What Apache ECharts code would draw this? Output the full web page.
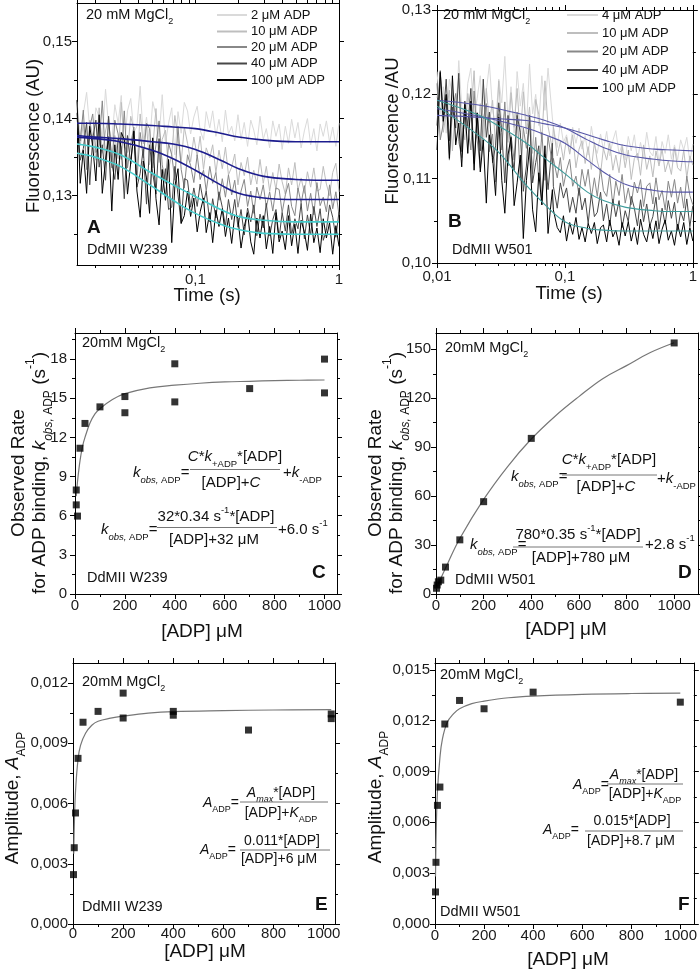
<!DOCTYPE html>
<html><head><meta charset="utf-8">
<script src="https://cdn.jsdelivr.net/npm/echarts@6/dist/echarts.min.js"></script>
<style>html,body{margin:0;padding:0;background:#fff}#c{width:700px;height:969px}</style>
</head><body><div id="c"></div>
<script>
// ---------- Panel A (DdMII W239, fluorescence transients) ----------
const tA = [0.0150,0.0158,0.0166,0.0175,0.0184,0.0193,0.0203,0.0214,0.0225,0.0237,0.0249,0.0262,0.0275,0.0290,0.0305,0.0320,0.0337,0.0355,0.0373,0.0392,0.0413,0.0434,0.0457,0.0480,0.0505,0.0532,0.0559,0.0588,0.0619,0.0651,0.0685,0.0720,0.0757,0.0797,0.0838,0.0882,0.0927,0.0976,0.103,0.108,0.114,0.119,0.126,0.132,0.139,0.146,0.154,0.162,0.170,0.179,0.188,0.198,0.208,0.219,0.231,0.243,0.255,0.268,0.282,0.297,0.312,0.329,0.346,0.364,0.383,0.402,0.423,0.445,0.468,0.493,0.518,0.545,0.574,0.603,0.635,0.668,0.702,0.739,0.777,0.817,0.860,0.904,0.951,1.0];
const A_2 = [0.1422,0.1378,0.1406,0.1434,0.1386,0.1366,0.1414,0.1402,0.1374,0.1438,0.1390,0.1370,0.1418,0.1394,0.1430,0.1362,0.1410,0.1426,0.1382,0.1390,0.1442,0.1374,0.1402,0.1366,0.1422,0.1404,0.1376,0.1431,0.1367,0.1394,0.1414,0.1353,0.1409,0.1381,0.1421,
0.1410,0.1380,0.1402,0.1416,0.1385,0.1372,0.1409,0.1388,0.1410,0.1377,0.1399,0.1370,0.1411,0.1380,0.1390,0.1371,0.1405,0.1373,0.1395,0.1364,0.1398,0.1385,0.1366,0.1403,0.1373,0.1387,0.1362,0.1397,0.1377,0.1393,0.1360,0.1390,0.1368,0.1399,0.1375,0.1395,0.1362,0.1384,0.1400,0.1366,0.1387,0.1358,0.1393,0.1377,0.1397,0.1369,0.1389,0.1364,0.1394];
const A_10 = [0.1408,0.1365,0.1394,0.1334,0.1398,0.1376,0.1346,0.1414,0.1355,0.1384,0.1401,0.1341,0.1378,0.1348,0.1421,0.1365,0.1356,0.1403,0.1385,0.1334,0.1406,0.1367,0.1392,0.1340,0.1361,0.1413,0.1343,0.1373,0.1385,0.1334,0.1354,0.1404,0.1374,0.1343,0.1389,
0.1368,0.1344,0.1376,0.1351,0.1377,0.1334,0.1362,0.1349,0.1366,0.1330,0.1359,0.1335,0.1363,0.1327,0.1337,0.1354,0.1314,0.1343,0.1326,0.1350,0.1314,0.1333,0.1315,0.1347,0.1316,0.1338,0.1306,0.1330,0.1308,0.1341,0.1318,0.1302,0.1336,0.1314,0.1343,0.1307,0.1323,0.1303,0.1331,0.1311,0.1336,0.1306,0.1308,0.1338,0.1315,0.1300,0.1330,0.1342,0.1305];
const A_20 = [0.1399,0.1371,0.1411,0.1334,0.1389,0.1406,0.1356,0.1365,0.1423,0.1346,0.1377,0.1336,0.1398,0.1380,0.1347,0.1410,0.1336,0.1367,0.1389,0.1320,0.1382,0.1349,0.1394,0.1387,0.1336,0.1366,0.1397,0.1340,0.1316,0.1368,0.1353,0.1320,0.1390,0.1334,0.1310,
0.1353,0.1339,0.1317,0.1353,0.1321,0.1333,0.1306,0.1338,0.1316,0.1330,0.1294,0.1322,0.1298,0.1327,0.1301,0.1320,0.1285,0.1306,0.1321,0.1286,0.1306,0.1277,0.1311,0.1295,0.1314,0.1285,0.1305,0.1280,0.1310,0.1308,0.1278,0.1301,0.1316,0.1286,0.1274,0.1310,0.1290,0.1313,0.1280,0.1303,0.1275,0.1317,0.1287,0.1298,0.1279,0.1314,0.1283,0.1305,0.1275];
const A_40 = [0.1407,0.1346,0.1361,0.1395,0.1314,0.1374,0.1398,0.1337,0.1366,0.1320,0.1403,0.1342,0.1321,0.1374,0.1363,0.1296,0.1378,0.1341,0.1383,0.1311,0.1329,0.1361,0.1289,0.1366,0.1329,0.1302,0.1374,0.1302,0.1335,0.1282,0.1285,0.1338,0.1301,0.1264,0.1322,
0.1320,0.1285,0.1310,0.1286,0.1315,0.1291,0.1306,0.1266,0.1296,0.1271,0.1305,0.1285,0.1260,0.1295,0.1269,0.1295,0.1259,0.1282,0.1249,0.1284,0.1266,0.1288,0.1248,0.1276,0.1258,0.1290,0.1248,0.1269,0.1282,0.1245,0.1278,0.1254,0.1288,0.1249,0.1270,0.1257,0.1290,0.1244,0.1275,0.1249,0.1286,0.1260,0.1283,0.1242,0.1255,0.1288,0.1272,0.1246,0.1279];
const A_100 = [0.1424,0.1316,0.1359,0.1303,0.1390,0.1364,0.1319,0.1405,0.1303,0.1346,0.1375,0.1280,0.1366,0.1321,0.1382,0.1373,0.1302,0.1343,0.1384,0.1306,0.1272,0.1345,0.1323,0.1277,0.1375,0.1296,0.1262,0.1334,0.1294,0.1347,0.1239,0.1312,0.1335,0.1264,0.1274,
0.1306,0.1273,0.1297,0.1253,0.1279,0.1297,0.1252,0.1278,0.1239,0.1281,0.1260,0.1283,0.1247,0.1271,0.1238,0.1275,0.1271,0.1232,0.1260,0.1278,0.1240,0.1224,0.1271,0.1245,0.1274,0.1231,0.1260,0.1225,0.1278,0.1240,0.1254,0.1230,0.1274,0.1235,0.1263,0.1225,0.1268,0.1253,0.1229,0.1276,0.1239,0.1258,0.1226,0.1270,0.1245,0.1265,0.1224,0.1261,0.1234];
const tAfit = [0.015,0.02,0.03,0.05,0.07,0.1,0.15,0.2,0.3,0.5,0.7,1];
const A_f2 = [0.1394,0.1394,0.1393,0.1391,0.1389,0.1387,0.1381,0.1376,0.1372,0.1370,0.1370,0.1370];
const A_f10 = [0.1378,0.1376,0.1374,0.1370,0.1367,0.1360,0.1346,0.1335,0.1325,0.1321,0.1320,0.1320];
const A_f20 = [0.1376,0.1374,0.1370,0.1359,0.1348,0.1333,0.1314,0.1303,0.1297,0.1295,0.1295,0.1295];
const A_f40 = [0.1367,0.1363,0.1353,0.1329,0.1314,0.1299,0.1282,0.1273,0.1268,0.1266,0.1266,0.1266];
const A_f100 = [0.1355,0.1350,0.1338,0.1312,0.1294,0.1277,0.1263,0.1256,0.1251,0.1250,0.1250,0.1250];
const A_names = ['2 μM ADP','10 μM ADP','20 μM ADP','40 μM ADP','100 μM ADP'];

// ---------- Panel B (DdMII W501, fluorescence transients) ----------
const tB = [0.0100,0.0106,0.0112,0.0118,0.0125,0.0132,0.0140,0.0148,0.0156,0.0165,0.0174,0.0184,0.0195,0.0206,0.0218,0.0230,0.0243,0.0257,0.0272,0.0287,0.0304,0.0321,0.0339,0.0359,0.0379,0.0401,0.0423,0.0448,0.0473,0.0500,0.0529,0.0559,0.0591,0.0625,0.0660,0.0698,0.0738,0.0798,0.0812,0.0871,0.0921,0.0974,0.103,0.109,0.115,0.122,0.129,0.136,0.144,0.152,0.161,0.170,0.179,0.190,0.200,0.212,0.224,0.237,0.250,0.265,0.280,0.296,0.313,0.330,0.349,0.369,0.390,0.412,0.436,0.461,0.487,0.515,0.544,0.575,0.608,0.643,0.680,0.719,0.760,0.803,0.849,0.897,0.948,1.0];
const B_4 = [0.1227,0.1177,0.1209,0.1154,0.1218,0.1200,0.1168,0.1240,0.1186,0.1159,0.1213,0.1231,0.1172,0.1195,0.1222,0.1150,0.1204,0.1236,0.1181,0.1163,0.1218,0.1190,0.1245,0.1168,0.1209,0.1154,0.1227,0.1186,0.1213,0.1159,0.1236,0.1177,0.1200,0.1163,0.1222,0.1181,0.1231,0.1172,
0.1161,0.1137,0.1166,0.1143,0.1152,0.1130,0.1161,0.1142,0.1160,0.1135,0.1151,0.1128,0.1162,0.1140,0.1130,0.1153,0.1134,0.1156,0.1127,0.1145,0.1157,0.1129,0.1141,0.1122,0.1150,0.1133,0.1152,0.1122,0.1143,0.1124,0.1155,0.1132,0.1127,0.1150,0.1118,0.1144,0.1130,0.1152,0.1123,0.1140,0.1122,0.1146,0.1134,0.1149,0.1120,0.1141];
const B_10 = [0.1196,0.1214,0.1155,0.1178,0.1205,0.1133,0.1187,0.1219,0.1164,0.1146,0.1201,0.1173,0.1228,0.1148,0.1189,0.1134,0.1207,0.1166,0.1193,0.1139,0.1216,0.1157,0.1180,0.1143,0.1202,0.1161,0.1207,0.1148,0.1203,0.1153,0.1185,0.1130,0.1194,0.1176,0.1144,0.1216,0.1162,0.1135,
0.1162,0.1127,0.1144,0.1122,0.1149,0.1129,0.1152,0.1113,0.1135,0.1145,0.1118,0.1138,0.1111,0.1143,0.1121,0.1106,0.1136,0.1122,0.1142,0.1110,0.1128,0.1107,0.1138,0.1113,0.1134,0.1099,0.1124,0.1130,0.1104,0.1140,0.1111,0.1127,0.1102,0.1133,0.1115,0.1135,0.1108,0.1121,0.1105,0.1137,0.1113,0.1109,0.1134,0.1101,0.1127,0.1116];
const B_20 = [0.1213,0.1146,0.1165,0.1199,0.1122,0.1180,0.1201,0.1144,0.1125,0.1187,0.1163,0.1134,0.1204,0.1146,0.1113,0.1170,0.1189,0.1132,0.1153,0.1096,0.1177,0.1134,0.1191,0.1115,0.1151,0.1122,0.1179,0.1098,0.1160,0.1136,0.1168,0.1106,0.1149,0.1097,0.1155,0.1098,0.1150,0.1117,
0.1124,0.1101,0.1125,0.1091,0.1110,0.1123,0.1091,0.1103,0.1080,0.1111,0.1091,0.1111,0.1077,0.1101,0.1079,0.1112,0.1086,0.1079,0.1105,0.1068,0.1097,0.1080,0.1105,0.1071,0.1089,0.1069,0.1096,0.1083,0.1099,0.1067,0.1091,0.1095,0.1070,0.1101,0.1075,0.1086,0.1063,0.1097,0.1078,0.1099,0.1071,0.1090,0.1065,0.1103,0.1080,0.1069];
const B_40 = [0.1163,0.1228,0.1173,0.1218,0.1145,0.1185,0.1160,0.1225,0.1132,0.1192,0.1162,0.1207,0.1118,0.1178,0.1133,0.1218,0.1149,0.1179,0.1119,0.1139,0.1190,0.1155,0.1095,0.1175,0.1135,0.1110,0.1175,0.1155,0.1085,0.1115,0.1175,0.1095,0.1119,0.1139,0.1069,0.1129,0.1087,0.1142,
0.1091,0.1065,0.1095,0.1077,0.1089,0.1060,0.1078,0.1059,0.1089,0.1063,0.1077,0.1047,0.1082,0.1055,0.1060,0.1084,0.1050,0.1070,0.1044,0.1076,0.1055,0.1074,0.1042,0.1062,0.1049,0.1079,0.1065,0.1044,0.1075,0.1049,0.1070,0.1044,0.1055,0.1078,0.1040,0.1065,0.1046,0.1074,0.1053,0.1072,0.1038,0.1061,0.1050,0.1076,0.1043,0.1068];
const B_100 = [0.1134,0.1226,0.1168,0.1200,0.1124,0.1222,0.1140,0.1166,0.1114,0.1188,0.1130,0.1192,0.1110,0.1178,0.1108,0.1146,0.1071,0.1152,0.1125,0.1080,0.1173,0.1098,0.1059,0.1128,0.1149,0.1068,0.1095,0.1128,0.1029,0.1098,0.1137,0.1063,0.1037,0.1107,0.1069,0.1139,0.1035,0.1087,
0.1063,0.1042,0.1036,0.1056,0.1026,0.1048,0.1034,0.1054,0.1028,0.1042,0.1025,0.1047,0.1035,0.1048,0.1023,0.1042,0.1045,0.1025,0.1051,0.1031,0.1039,0.1021,0.1048,0.1032,0.1049,0.1026,0.1042,0.1022,0.1052,0.1034,0.1025,0.1046,0.1029,0.1050,0.1023,0.1040,0.1051,0.1027,0.1038,0.1021,0.1046,0.1031,0.1048,0.1022,0.1042,0.1026];
const tBfit = [0.01,0.02,0.03,0.05,0.07,0.1,0.15,0.2,0.3,0.5,0.7,1];
const B_f4 = [0.1175,0.1173,0.1171,0.1169,0.1165,0.1160,0.1152,0.1146,0.1139,0.1135,0.1134,0.1133];
const B_f10 = [0.1193,0.1188,0.1183,0.1175,0.1169,0.1160,0.1146,0.1137,0.1128,0.1123,0.1121,0.1120];
const B_f20 = [0.1183,0.1175,0.1169,0.1160,0.1152,0.1142,0.1122,0.1108,0.1093,0.1086,0.1084,0.1084];
const B_f40 = [0.1193,0.1177,0.1163,0.1142,0.1124,0.1106,0.1084,0.1074,0.1066,0.1062,0.1061,0.1061];
const B_f100 = [0.1186,0.1154,0.1132,0.1092,0.1069,0.1049,0.1041,0.1039,0.1038,0.1038,0.1038,0.1038];
const B_names = ['4 μM ADP','10 μM ADP','20 μM ADP','40 μM ADP','100 μM ADP'];

// ---------- Panel C (k_obs, W239) ----------
const cX = [5,5,10,20,40,100,200,200,400,400,700,1000,1000];
const cY = [7.97,6.83,5.97,11.17,13.07,14.34,15.13,13.89,17.64,14.72,15.74,18.0,15.41];
const cFitX = [5,10,20,30,40,60,80,100,150,200,300,400,500,600,700,800,900,1000];
const cFitY = [7.5,8.6,10.2,11.3,12.0,13.1,13.8,14.2,14.9,15.35,15.8,16.0,16.15,16.25,16.3,16.35,16.38,16.4];
// ---------- Panel D (k_obs, W501) ----------
const dX = [2,5,10,20,40,100,200,400,1000];
const dY = [3.5,5.5,7.5,8.5,16.5,33.2,56.6,95.4,153.9];
const dFitX = [0,50,100,200,300,400,500,600,700,800,900,1000];
const dFitY = [3,19,34,58,78,95,109,121,132,140,148,154];
// ---------- Panel E (amplitude, W239) ----------
const eX = [2,5,10,20,40,100,200,200,400,400,700,1030,1030];
const eY = [0.00246,0.0038,0.00553,0.00825,0.01005,0.01059,0.0115,0.01026,0.01059,0.0104,0.00966,0.01046,0.01023];
const eFitX = [3,5,10,20,30,50,75,100,150,200,300,400,600,800,1030];
const eFitY = [0.0035,0.0048,0.0066,0.0082,0.0089,0.0095,0.0099,0.0101,0.01025,0.01035,0.0105,0.01058,0.01063,0.01066,0.01068];
// ---------- Panel F (amplitude, W501) ----------
const fX = [2,4,10,20,40,100,200,400,1000];
const fY = [0.00189,0.00364,0.0070,0.00808,0.0118,0.01319,0.0127,0.01368,0.01309];
const fFitX = [2,5,10,20,30,50,75,100,150,200,300,400,600,800,1000];
const fFitY = [0.0028,0.0055,0.0078,0.0098,0.0109,0.0119,0.0124,0.0127,0.0130,0.01315,0.01335,0.01345,0.01355,0.0136,0.01362];

// ---------- tick values ----------
const logMinorTicks = [0.02,0.03,0.04,0.05,0.06,0.07,0.08,0.09,0.2,0.3,0.4,0.5,0.6,0.7,0.8,0.9];
const aYTicks = [0.13,0.14,0.15], aYMinor = [0.125,0.135,0.145];
const bYTicks = [0.10,0.11,0.12,0.13], bYMinor = [0.105,0.115,0.125];
const kXTicks = [0,200,400,600,800,1000], kXMinor = [100,300,500,700,900];
const cYTicks = [0,3,6,9,12,15,18], cYMinor = [1.5,4.5,7.5,10.5,13.5,16.5,19.5];
const dYTicks = [0,30,60,90,120,150], dYMinor = [15,45,75,105,135];
const eYTicks = [0,0.003,0.006,0.009,0.012], eYMinor = [0.0015,0.0045,0.0075,0.0105];
const fYTicks = [0,0.003,0.006,0.009,0.012,0.015], fYMinor = [0.0015,0.0045,0.0075,0.0105,0.0135];

const F = '"Liberation Sans", Arial, Helvetica, sans-serif';
const fmt2 = v => v.toFixed(2).replace('.', ',');
const fmt3 = v => v.toFixed(3).replace('.', ',');
const fmtI = v => String(Math.round(v));
const fmtLog = v => String(+(+v).toPrecision(4)).replace('.', ',');
const zip = (xs, ys) => xs.map((x, i) => [x, ys[i]]);

const grids = [
  {left: 77, top: 3, width: 262, height: 262},
  {left: 437, top: 10, width: 262, height: 253},
  {left: 75, top: 333, width: 262, height: 261},
  {left: 436, top: 333, width: 262, height: 261},
  {left: 73, top: 663, width: 262, height: 261},
  {left: 435, top: 663, width: 262, height: 261}
].map(g => Object.assign({show: false, containLabel: false}, g));

const xAxes = [], yAxes = [];
const LINE = {color: '#000', width: 1};
function mkAxis(c, d, pos, kind) {
  const isLog = d === 'x' && c.xLog;
  const min = c[d + 'Min'], max = c[d + 'Max'];
  if (kind === 'minor') {
    const mv = isLog ? c[d + 'Minor'].map(v => Math.log10(v)) : c[d + 'Minor'];
    return {gridIndex: c.g, type: 'value', position: pos,
      min: isLog ? Math.log10(min) : min, max: isLog ? Math.log10(max) : max,
      axisLine: {show: false, onZero: false}, axisTick: {show: true, inside: false, length: 3, customValues: mv, lineStyle: LINE},
      axisLabel: {show: false}, splitLine: {show: false}, silent: true};
  }
  const ax = {gridIndex: c.g, type: isLog ? 'log' : 'value', position: pos, min, max,
    axisLine: {show: true, onZero: false, lineStyle: LINE},
    axisTick: {show: true, inside: false, length: 5, lineStyle: LINE},
    axisLabel: {show: kind === 'main', fontSize: 15, fontFamily: F, color: '#1a1a1a', margin: c[d + 'Margin'], formatter: c[d + 'Fmt']},
    splitLine: {show: false}, silent: true};
  if (isLog) { ax.logBase = 10; ax.axisLabel.showMinLabel = c.xShowMin; }
  else { ax.axisTick.customValues = c[d + 'Ticks']; ax.axisLabel.customValues = c[d + 'Ticks']; }
  return ax;
}
function addPanel(c) {
  const xi = xAxes.length, yi = yAxes.length;
  xAxes.push(mkAxis(c, 'x', 'bottom', 'main'), mkAxis(c, 'x', 'top', 'mirror'), mkAxis(c, 'x', 'bottom', 'minor'), mkAxis(c, 'x', 'top', 'minor'));
  yAxes.push(mkAxis(c, 'y', 'left', 'main'), mkAxis(c, 'y', 'right', 'mirror'), mkAxis(c, 'y', 'left', 'minor'), mkAxis(c, 'y', 'right', 'minor'));
  return {x: xi, y: yi};
}
const pA = addPanel({g: 0, xLog: true, xMin: 0.015, xMax: 1, xMinor: logMinorTicks, xFmt: fmtLog, xMargin: 7, xShowMin: false,
  yMin: 0.121, yMax: 0.155, yTicks: aYTicks, yMinor: aYMinor, yFmt: fmt2, yMargin: 5});
const pB = addPanel({g: 1, xLog: true, xMin: 0.01, xMax: 1, xMinor: logMinorTicks, xFmt: fmtLog, xMargin: 6, xShowMin: true,
  yMin: 0.10, yMax: 0.13, yTicks: bYTicks, yMinor: bYMinor, yFmt: fmt2, yMargin: 6});
const pC = addPanel({g: 2, xMin: 0, xMax: 1050, xTicks: kXTicks, xMinor: kXMinor, xFmt: fmtI, xMargin: 4,
  yMin: 0, yMax: 20, yTicks: cYTicks, yMinor: cYMinor, yFmt: fmtI, yMargin: 8});
const pD = addPanel({g: 3, xMin: 0, xMax: 1100, xTicks: kXTicks, xMinor: kXMinor, xFmt: fmtI, xMargin: 4,
  yMin: 0, yMax: 160, yTicks: dYTicks, yMinor: dYMinor, yFmt: fmtI, yMargin: 5});
const pE = addPanel({g: 4, xMin: 0, xMax: 1045, xTicks: kXTicks, xMinor: kXMinor, xFmt: fmtI, xMargin: 2,
  yMin: 0, yMax: 0.013, yTicks: eYTicks, yMinor: eYMinor, yFmt: fmt3, yMargin: 5});
const pF = addPanel({g: 5, xMin: 0, xMax: 1055, xTicks: kXTicks, xMinor: kXMinor, xFmt: fmtI, xMargin: 4,
  yMin: 0, yMax: 0.0154, yTicks: fYTicks, yMinor: fYMinor, yFmt: fmt3, yMargin: 5});

const traceColors = ['#dadada', '#bebebe', '#888888', '#474747', '#000000'];
const series = [];
function trace(p, name, t, v, color) {
  series.push({type: 'line', name, xAxisIndex: p.x, yAxisIndex: p.y, data: zip(t, v), showSymbol: false, symbol: 'none',
    lineStyle: {color, width: 1}, itemStyle: {color}, silent: true, z: 2});
}
function fit(p, t, v, color, w) {
  series.push({type: 'line', xAxisIndex: p.x, yAxisIndex: p.y, data: zip(t, v), showSymbol: false, symbol: 'none',
    smooth: 0.4, lineStyle: {color, width: w}, silent: true, z: 5});
}
function pts(p, x, y) {
  series.push({type: 'scatter', xAxisIndex: p.x, yAxisIndex: p.y, data: zip(x, y), symbol: 'rect', symbolSize: 7,
    itemStyle: {color: '#000'}, silent: true, z: 6});
}
[A_2, A_10, A_20, A_40, A_100].forEach((v, i) => trace(pA, 'A ' + A_names[i], tA, v, traceColors[i]));
fit(pA, tAfit, A_f2, '#1c1c8e', 1.6); fit(pA, tAfit, A_f10, '#1c1c8e', 1.6); fit(pA, tAfit, A_f20, '#1c1c8e', 1.6);
fit(pA, tAfit, A_f40, '#45cccc', 1.6); fit(pA, tAfit, A_f100, '#45cccc', 1.6);
[B_4, B_10, B_20, B_40, B_100].forEach((v, i) => trace(pB, 'B ' + B_names[i], tB, v, traceColors[i]));
fit(pB, tBfit, B_f4, '#5656a8', 1.1); fit(pB, tBfit, B_f10, '#5656a8', 1.1); fit(pB, tBfit, B_f20, '#5656a8', 1.1);
fit(pB, tBfit, B_f40, '#3e9c9c', 1.1); fit(pB, tBfit, B_f100, '#3e9c9c', 1.1);
fit(pC, cFitX, cFitY, '#777', 1.2); pts(pC, cX, cY);
fit(pD, dFitX, dFitY, '#777', 1.2); pts(pD, dX, dY);
fit(pE, eFitX, eFitY, '#777', 1.2); pts(pE, eX, eY);
fit(pF, fFitX, fFitY, '#777', 1.2); pts(pF, fX, fY);

// ---------- text / annotations ----------
function R(s) {
  const base = {fontFamily: F, fill: '#111'};
  const sub = Math.round(s * 0.63 * 2) / 2;
  return {
    n: Object.assign({fontSize: s, lineHeight: Math.round(s * 1.6)}, base),
    i: Object.assign({fontSize: s, lineHeight: Math.round(s * 1.6), fontStyle: 'italic'}, base),
    sb: Object.assign({fontSize: sub, lineHeight: Math.round(sub + 1), verticalAlign: 'bottom'}, base),
    si: Object.assign({fontSize: sub, lineHeight: Math.round(sub + 1), verticalAlign: 'bottom', fontStyle: 'italic'}, base),
    sp: Object.assign({fontSize: sub, lineHeight: Math.round(s * 1.05), verticalAlign: 'top'}, base)
  };
}
const G = [];
function T(x, y, text, size, o) {
  o = o || {};
  const al = o.align || 'left';
  const st = {text, fontFamily: F, fontSize: size, fill: '#111', align: al, verticalAlign: 'middle',
    textAlign: al, textVerticalAlign: 'middle', rich: R(size)};
  if (o.bold) st.fontWeight = 'bold';
  const el = {type: 'text', x, y, z: 100, silent: true, style: st};
  if (o.rot) el.rotation = Math.PI / 2;
  G.push(el);
}
function L(x1, y1, x2, y2, color, w) {
  G.push({type: 'line', z: 100, silent: true, shape: {x1, y1, x2, y2}, style: {stroke: color, lineWidth: w}});
}
const C = {align: 'center'}, ROT = {align: 'center', rot: true}, BOLD = {bold: true};

// Panel A texts
T(86, 15, '{n|20 mM MgCl}{sb|2}', 14.5);
[15, 31.5, 47, 63.5, 80].forEach((y, i) => { L(217, y, 247, y, traceColors[i], 2); T(251, y, A_names[i], 13); });
T(87, 228, 'A', 19, BOLD);
T(87, 250, 'DdMII W239', 14.5);
T(34, 136, 'Fluorescence (AU)', 18.5, ROT);
T(207, 296, 'Time (s)', 18.5, C);
// Panel B texts
T(443, 15, '{n|20 mM MgCl}{sb|2}', 14.5);
[15, 33, 51.5, 70, 88].forEach((y, i) => { L(567, y, 598, y, traceColors[i], 2); T(602, y, B_names[i], 13); });
T(448, 222, 'B', 19, BOLD);
T(452, 250, 'DdMII W501', 14.5);
T(393, 131, 'Fluorescence /AU', 18.5, ROT);
T(569, 294, 'Time (s)', 18.5, C);
// Panel C texts
const kTitle = '{n|for ADP binding, }{i|k}{si|obs,}{sb| ADP}{n| (s}{sp|-1}{n|)}';
const kPre = '{i|k}{si|obs,}{sb| ADP}{n|=}';
T(82, 343, '{n|20mM MgCl}{sb|2}', 14.5);
T(87, 578, 'DdMII W239', 14.5);
T(312, 573, 'C', 19, BOLD);
T(19, 473, 'Observed Rate', 19, ROT);
T(40, 473, kTitle, 19, ROT);
T(202, 632, '[ADP] μM', 19, C);
T(133, 473, kPre, 15);
T(235, 457, '{i|C}{n|*}{i|k}{sb|+ADP}{n|*[ADP]}', 15, C);
L(190, 469.5, 280, 469.5, '#777', 1);
T(231, 483, '{n|[ADP]+}{i|C}', 15, C);
T(283, 473, '{n|+}{i|k}{sb|-ADP}', 15);
T(101, 530, kPre, 15);
T(216, 517, '{n|32*0.34 s}{sp|-1}{n|*[ADP]}', 15, C);
L(157, 527.5, 277, 527.5, '#777', 1);
T(214, 540, '{n|[ADP]+32 μM}', 15, C);
T(278, 530, '{n|+6.0 s}{sp|-1}', 15);
// Panel D texts
T(445, 348, '{n|20mM MgCl}{sb|2}', 14.5);
T(455, 580, 'DdMII W501', 14.5);
T(678, 573, 'D', 19, BOLD);
T(376, 473, 'Observed Rate', 19, ROT);
T(397, 473, kTitle, 19, ROT);
T(566, 630, '[ADP] μM', 19, C);
T(511, 477, kPre, 15);
T(609, 460, '{i|C}{n|*}{i|k}{sb|+ADP}{n|*[ADP]}', 15, C);
L(562, 475, 657, 475, '#777', 1);
T(606, 487, '{n|[ADP]+}{i|C}', 15, C);
T(657, 479, '{n|+}{i|k}{sb|-ADP}', 15);
T(470, 545, kPre, 15);
T(578, 535, '{n|780*0.35 s}{sp|-1}{n|*[ADP]}', 15, C);
L(513, 547, 643, 547, '#777', 1);
T(581, 558, '{n|[ADP]+780 μM}', 15, C);
T(645, 545, '{n|+2.8 s}{sp|-1}', 15);
// Panel E texts
const aTitle = '{n|Amplitude, }{i|A}{sb|ADP}';
const aPre = '{i|A}{sb|ADP}{n|=}';
T(82, 682, '{n|20mM MgCl}{sb|2}', 14.5);
T(82, 907, 'DdMII W239', 14.5);
T(315, 905, 'E', 19, BOLD);
T(13, 798, aTitle, 19, ROT);
T(205, 952, '[ADP] μM', 19, C);
T(203, 803, aPre, 14);
T(281, 793, '{i|A}{si|max}{n|*[ADP]}', 14, C);
L(240, 802, 328, 802, '#777', 1);
T(281, 813, '{n|[ADP]+}{i|K}{sb|ADP}', 14, C);
T(200, 850, aPre, 14);
T(282, 841, '{n|0.011*[ADP]}', 14, C);
L(240, 850, 330, 850, '#777', 1);
T(279, 859, '{n|[ADP]+6 μM}', 14, C);
// Panel F texts
T(440, 675, '{n|20mM MgCl}{sb|2}', 14.5);
T(440, 912, 'DdMII W501', 14.5);
T(678, 905, 'F', 19, BOLD);
T(376, 797, aTitle, 19, ROT);
T(568, 960, '[ADP] μM', 19, C);
T(573, 785, aPre, 14);
T(644, 775, '{i|A}{si|max}{n|*[ADP]}', 14, C);
L(607, 784, 683, 784, '#777', 1);
T(645, 794, '{n|[ADP]+}{i|K}{sb|ADP}', 14, C);
T(543, 830, aPre, 14);
T(632, 821, '{n|0.015*[ADP]}', 14, C);
L(585, 831, 683, 831, '#777', 1);
T(631, 841, '{n|[ADP]+8.7 μM}', 14, C);

const chart = echarts.init(document.getElementById('c'), null, {renderer: 'canvas'});
chart.setOption({
  animation: false,
  backgroundColor: '#fff',
  textStyle: {fontFamily: F},
  grid: grids,
  xAxis: xAxes,
  yAxis: yAxes,
  series,
  graphic: {elements: G}
});
</script></body></html>
